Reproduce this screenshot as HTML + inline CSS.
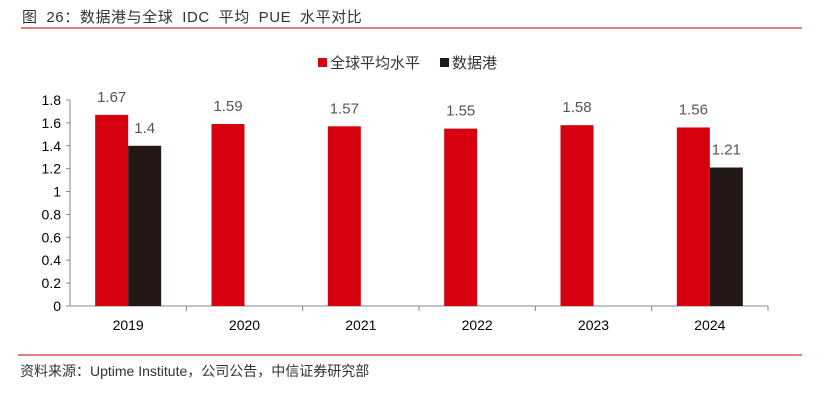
<!DOCTYPE html>
<html><head><meta charset="utf-8"><style>
body{margin:0;background:#fff;width:826px;height:407px;overflow:hidden;font-family:"Liberation Sans","Noto Sans CJK SC",sans-serif}
</style></head><body>
<svg width="826" height="407" xmlns="http://www.w3.org/2000/svg">
<text x="22" y="22" font-size="15" word-spacing="4" letter-spacing="0.6" fill="#333" font-family="Liberation Sans, Noto Sans CJK SC, sans-serif">图 26：数据港与全球 IDC 平均 PUE 水平对比</text>
<line x1="21" y1="28" x2="802" y2="28" stroke="#c00000" stroke-width="1"/>
<g font-size="15" fill="#333" font-family="Liberation Sans, Noto Sans CJK SC, sans-serif">
<rect x="318" y="58" width="9" height="9" fill="#d7000f"/>
<text x="330" y="68">全球平均水平</text>
<rect x="440" y="58" width="9" height="9" fill="#231815"/>
<text x="452" y="68">数据港</text>
</g>
<g id="plot"></g>
<line x1="18" y1="355" x2="802" y2="355" stroke="#c00000" stroke-width="1"/>
<text x="20" y="376" font-size="14" fill="#333" font-family="Liberation Sans, Noto Sans CJK SC, sans-serif">资料来源：Uptime Institute，公司公告，中信证券研究部</text>
</svg>
<script>
const categories=["2019","2020","2021","2022","2023","2024"];
const globalPUE=[1.67,1.59,1.57,1.55,1.58,1.56];
const dcPUE=[1.4,null,null,null,null,1.21];
const ticks=[0,0.2,0.4,0.6,0.8,1,1.2,1.4,1.6,1.8];
const NS="http://www.w3.org/2000/svg";
const g=document.getElementById("plot");
const x0=70,x1=768,yB=306,yT=100,yMax=1.8;
const y=v=>yB-(v/yMax)*(yB-yT);
const band=(x1-x0)/categories.length;
const cx=i=>x0+band*(i+0.5);
const bw=33;
function mk(t,a,txt){const e=document.createElementNS(NS,t);for(const k in a)e.setAttribute(k,a[k]);if(txt!=null)e.textContent=txt;g.appendChild(e);return e;}
ticks.forEach(t=>{
 const e=mk("text",{x:x0-9,y:y(t)+5,"text-anchor":"end","font-size":"14",fill:"#000"},String(t));
 
 
 const l=mk("line",{x1:x0-4,x2:x0,y1:y(t),y2:y(t),stroke:"#888"});
 
 
});
const ya=mk("line",{x1:x0,x2:x0,y1:yT,y2:yB,stroke:"#888"});


const xa=mk("line",{x1:x0,x2:x1,y1:yB,y2:yB,stroke:"#888"});


categories.forEach((c,i)=>{
 const tk=mk("line",{x1:x0+band*(i+1),x2:x0+band*(i+1),y1:yB,y2:yB+5,stroke:"#888"});
 
 
 const lb=mk("text",{x:cx(i),y:yB+24,"text-anchor":"middle","font-size":"14",fill:"#000"},c);
 
 
 const v=globalPUE[i];
 const r=mk("rect",{x:cx(i)-bw,y:y(v),width:bw,height:yB-y(v),fill:"#d7000f"});
 
 
 const t=mk("text",{x:cx(i)-bw/2,y:y(v)-13,"text-anchor":"middle","font-size":"15",fill:"#555"},String(v));
 
 
 const d=dcPUE[i];
 if(d!=null){
  const b=mk("rect",{x:cx(i),y:y(d),width:bw,height:yB-y(d),fill:"#231815"});
  
  
  const t2=mk("text",{x:cx(i)+bw/2,y:y(d)-13,"text-anchor":"middle","font-size":"15",fill:"#555"},String(d));
  
  
 }
});
</script>
</body></html>
